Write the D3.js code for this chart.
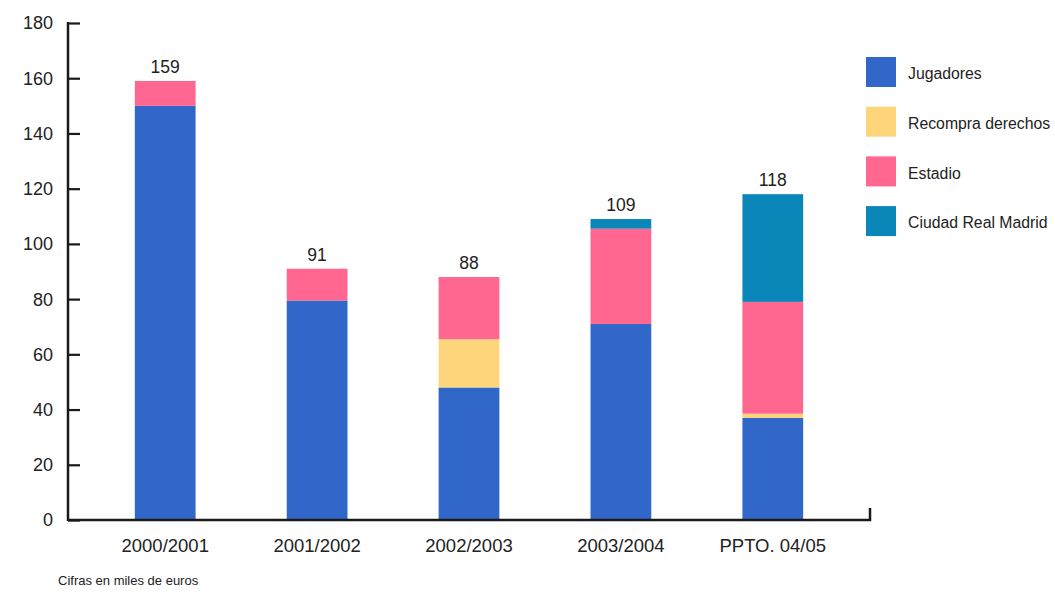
<!DOCTYPE html>
<html>
<head>
<meta charset="utf-8">
<script src="https://cdn.jsdelivr.net/npm/d3@7"></script>
<style>
  html, body { margin: 0; padding: 0; background: #fff; }
  svg { display: block; font-family: "Liberation Sans", Arial, sans-serif; }
</style>
</head>
<body>
<svg id="chart" width="1055" height="594"></svg>
<script>
// ---- Data ----
const categories = ["2000/2001", "2001/2002", "2002/2003", "2003/2004", "PPTO. 04/05"];
const seriesNames = ["Jugadores", "Recompra derechos", "Estadio", "Ciudad Real Madrid"];
const jugadores  = [150, 79.5, 48, 71, 37];
const recompra   = [0, 0, 17.5, 0, 1.5];
const estadio    = [9, 11.5, 22.5, 34.5, 40.5];
const ciudad     = [0, 0, 0, 3.5, 39];
const totals     = [159, 91, 88, 109, 118];
const yTicks     = [0, 20, 40, 60, 80, 100, 120, 140, 160, 180];
const colors     = ["#3067c8", "#ffd57c", "#ff6690", "#0b86b8"];
const footnote   = "Cifras en miles de euros";

// ---- Build table ----
const keys = ["jug", "rec", "est", "ciu"];
const table = categories.map((c, i) => ({
  cat: c, jug: jugadores[i], rec: recompra[i], est: estadio[i], ciu: ciudad[i], total: totals[i]
}));

const svg = d3.select("#chart");
const axisX = 68, axisBottom = 520, axisTop = 23, axisRight = 870;

const x = d3.scaleBand().domain(categories).range([axisX, axisRight])
  .paddingInner(0.6).paddingOuter(0.44);
const y = d3.scaleLinear().domain([0, 180]).range([axisBottom, axisTop]);
const color = d3.scaleOrdinal().domain(keys).range(colors);

const stacked = d3.stack().keys(keys)(table);

// bars
svg.append("g").selectAll("g").data(stacked).join("g")
  .attr("fill", d => color(d.key))
  .selectAll("rect").data(d => d).join("rect")
  .attr("x", d => x(d.data.cat))
  .attr("width", x.bandwidth())
  .attr("y", d => y(d[1]))
  .attr("height", d => y(d[0]) - y(d[1]));

// total labels
svg.append("g").selectAll("text").data(table).join("text")
  .attr("x", d => x(d.cat) + x.bandwidth() / 2)
  .attr("y", d => y(d.total) - 8)
  .attr("text-anchor", "middle")
  .attr("font-size", 17.5)
  .attr("fill", "#222")
  .text(d => d.total);

// y axis
const yAxis = d3.axisRight(y).tickValues(yTicks).tickSize(12).tickFormat("");
const gy = svg.append("g").attr("transform", `translate(${axisX},0)`).call(yAxis);
gy.select(".domain").remove();
gy.selectAll(".tick line").attr("stroke", "#1a1a1a").attr("stroke-width", 2.2);
gy.append("line").attr("x1", 0).attr("x2", 0).attr("y1", axisTop - 1).attr("y2", axisBottom + 1)
  .attr("stroke", "#1a1a1a").attr("stroke-width", 2.5);

svg.append("g").selectAll("text").data(yTicks).join("text")
  .attr("x", 53)
  .attr("y", d => y(d))
  .attr("dy", "0.36em")
  .attr("text-anchor", "end")
  .attr("font-size", 18)
  .attr("fill", "#222")
  .text(d => d);

// x axis
const xAxis = d3.axisBottom(x).tickSize(0).tickPadding(19);
const gx = svg.append("g").attr("transform", `translate(0,${axisBottom})`).call(xAxis);
gx.select(".domain").remove();
gx.selectAll("text").attr("font-size", 18.5).attr("fill", "#222")
  .attr("font-family", "'Liberation Sans', Arial, sans-serif");
svg.append("path")
  .attr("d", `M${axisX},${axisBottom} H${axisRight} V${axisBottom - 12}`)
  .attr("fill", "none").attr("stroke", "#1a1a1a").attr("stroke-width", 2.5);

// legend
const legend = svg.append("g").attr("transform", "translate(866,57)");
const li = legend.selectAll("g").data(seriesNames).join("g")
  .attr("transform", (d, i) => `translate(0,${i * 49.7})`);
li.append("rect").attr("width", 30).attr("height", 30).attr("fill", (d, i) => colors[i]);
li.append("text").attr("x", 42).attr("y", 16.5).attr("dy", "0.36em")
  .attr("font-size", 15.8).attr("fill", "#222").text(d => d);

// footnote
svg.append("text").attr("x", 58).attr("y", 585).attr("font-size", 13)
  .attr("fill", "#222").text(footnote);
</script>
</body>
</html>
